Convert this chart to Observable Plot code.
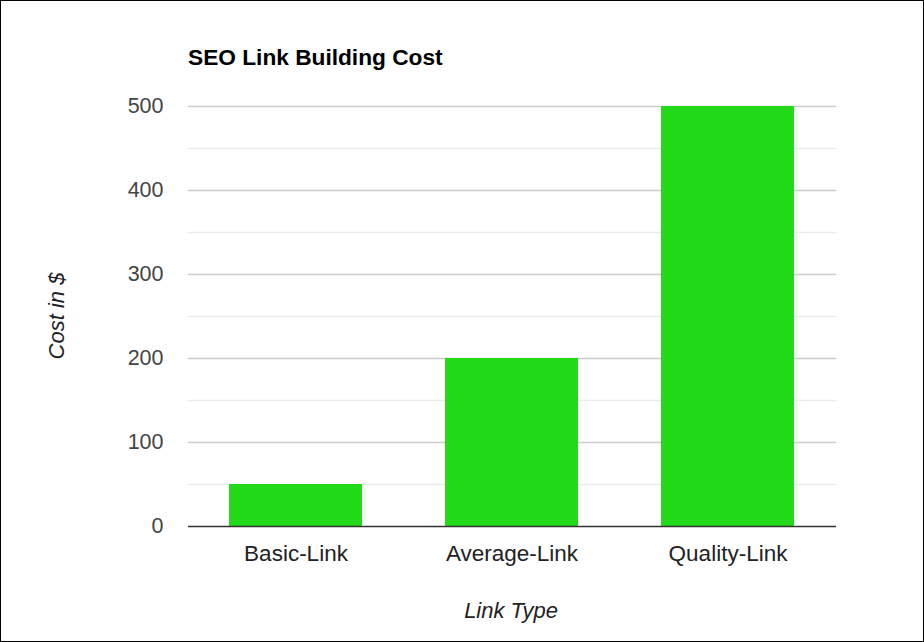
<!DOCTYPE html>
<html>
<head>
<meta charset="utf-8">
<script src="https://cdn.jsdelivr.net/npm/d3@7"></script>
<script src="https://cdn.jsdelivr.net/npm/@observablehq/plot@0.6"></script>
<style>
  html, body { margin: 0; padding: 0; background: #fff; }
  #wrap { position: relative; width: 922px; height: 640px; border: 1px solid #000; background: #fff; overflow: hidden;
          font-family: "Liberation Sans", Arial, sans-serif; }
  #title { position: absolute; left: 187px; top: 43px; font-size: 22.7px; font-weight: bold; color: #000; white-space: nowrap; }
  #ylab { position: absolute; left: 56px; top: 315px; transform: translate(-50%, -50%) rotate(-90deg);
          font-size: 22px; font-style: italic; color: #222; white-space: nowrap; }
  #xlab { position: absolute; left: 510px; top: 610px; transform: translate(-50%, -50%);
          font-size: 22px; font-style: italic; color: #222; white-space: nowrap; }
  #chart { position: absolute; left: 0; top: 0; }
</style>
</head>
<body>
<div id="wrap">
  <div id="chart"></div>
  <div id="title">SEO Link Building Cost</div>
  <div id="ylab">Cost in $</div>
  <div id="xlab">Link Type</div>
</div>
<script>
const categories = ["Basic-Link", "Average-Link", "Quality-Link"];
const costs = [50, 200, 500];
const majorTicks = [0, 100, 200, 300, 400, 500];
const minorTicks = [50, 150, 250, 350, 450];

const data = categories.map((c, i) => ({type: c, cost: costs[i]}));

const chart = Plot.plot({
  width: 922,
  height: 640,
  marginLeft: 187,
  marginRight: 87,
  marginTop: 105,
  marginBottom: 115,
  style: {fontFamily: "Liberation Sans, Arial, sans-serif", fontSize: "21.5px", background: "transparent"},
  x: {domain: categories, paddingInner: 0.384, paddingOuter: 0.192, label: null},
  y: {domain: [0, 500], label: null},
  marks: [
    Plot.ruleY(minorTicks, {stroke: "#ebebeb", strokeWidth: 1.5}),
    Plot.ruleY(majorTicks.filter(d => d !== 0), {stroke: "#cccccc", strokeWidth: 1.5}),
    Plot.barY(data, {x: "type", y: "cost", fill: "#22d91a"}),
    Plot.ruleY([0], {stroke: "#333333", strokeWidth: 1.5}),
    Plot.axisY(majorTicks, {tickSize: 0, tickPadding: 25, color: "#444", label: null}),
    Plot.axisX({tickSize: 0, tickPadding: 19, color: "#222", label: null, fontSize: 22.5})
  ]
});
document.getElementById("chart").appendChild(chart);
</script>
</body>
</html>
